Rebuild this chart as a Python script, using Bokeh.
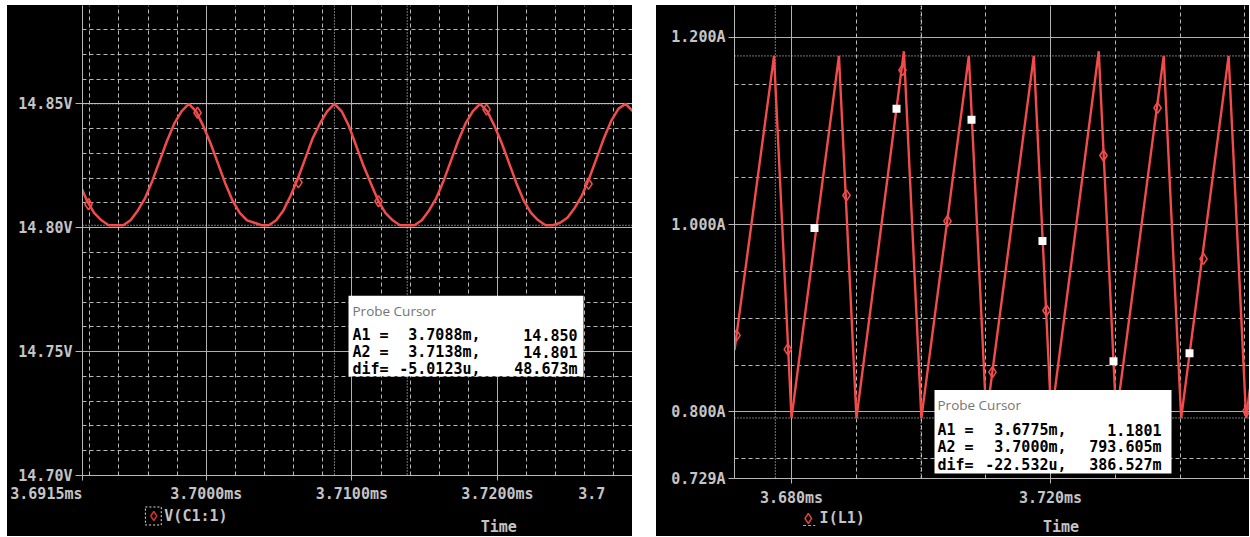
from bokeh.plotting import figure
from bokeh.models import FixedTicker, Span, BoxAnnotation, Label, Range1d, Spacer
from bokeh.layouts import row, column
from bokeh.core.properties import value
from bokeh.embed import file_html
from bokeh.resources import INLINE

# ---------------- LEFT PANEL DATA : V(C1:1) ----------------
v_time_ms = [3.6913, 3.6918, 3.6923, 3.6928, 3.6933, 3.6938, 3.6943, 3.6948, 3.6953, 3.6958,
             3.6963, 3.6968, 3.6973, 3.6978, 3.6983, 3.6988, 3.6993, 3.6998, 3.7003, 3.7008,
             3.7013, 3.7018, 3.7023, 3.7028, 3.7033, 3.7038, 3.7043, 3.7048, 3.7053, 3.7058,
             3.7063, 3.7068, 3.7073, 3.7078, 3.7083, 3.7088, 3.7093, 3.7098, 3.7103, 3.7108,
             3.7113, 3.7118, 3.7123, 3.7128, 3.7133, 3.7138, 3.7143, 3.7148, 3.7153, 3.7158,
             3.7163, 3.7168, 3.7173, 3.7178, 3.7183, 3.7188, 3.7193, 3.7198, 3.7203, 3.7208,
             3.7213, 3.7218, 3.7223, 3.7228, 3.7233, 3.7238, 3.7243, 3.7248, 3.7253, 3.7258,
             3.7263, 3.7268, 3.7273, 3.7278, 3.7283, 3.7288, 3.7293, 3.7298]
v_volts = [14.818, 14.811, 14.806, 14.803, 14.801, 14.801, 14.801, 14.803, 14.807, 14.812,
           14.819, 14.827, 14.835, 14.842, 14.847, 14.850, 14.847, 14.841, 14.834, 14.826,
           14.818, 14.811, 14.806, 14.803, 14.802, 14.801, 14.801, 14.803, 14.807, 14.813,
           14.820, 14.828, 14.836, 14.842, 14.847, 14.850, 14.847, 14.841, 14.833, 14.825,
           14.818, 14.811, 14.806, 14.803, 14.801, 14.801, 14.801, 14.803, 14.807, 14.812,
           14.819, 14.827, 14.835, 14.842, 14.847, 14.850, 14.847, 14.841, 14.834, 14.826,
           14.818, 14.811, 14.806, 14.803, 14.801, 14.801, 14.802, 14.804, 14.808, 14.813,
           14.820, 14.828, 14.836, 14.843, 14.848, 14.850, 14.847, 14.841]
v_marker_time = [3.69191, 3.69940, 3.70633, 3.71183, 3.71925, 3.72625]
v_marker_volts = [14.8095, 14.8464, 14.8183, 14.8107, 14.8477, 14.8177]

v_ticks = [14.70, 14.75, 14.80, 14.85]
v_tick_labels = ["14.70V", "14.75V", "14.80V", "14.85V"]
v_minor_ticks = [14.71, 14.72, 14.73, 14.74, 14.76, 14.77, 14.78, 14.79,
                 14.81, 14.82, 14.83, 14.84, 14.86, 14.87, 14.88]
v_time_ticks = [3.7000, 3.7100, 3.7200]
v_time_labels = ["3.7000ms", "3.7100ms", "3.7200ms"]
v_time_first_label = "3.6915ms"      # at the left end of the axis
v_time_last_label = "3.7"            # cut at the right end of the axis
v_time_minor = [3.692, 3.694, 3.696, 3.698, 3.702, 3.704, 3.706, 3.708,
                3.712, 3.714, 3.716, 3.718, 3.722, 3.724, 3.726, 3.728]
v_cursor_time = [3.7088, 3.7138]
v_cursor_volts = [14.850, 14.801]
v_probe_rows = [("A1 =", "3.7088m,", "14.850"),
                ("A2 =", "3.7138m,", "14.801"),
                ("dif=", "-5.0123u,", "48.673m")]
v_legend = "V(C1:1)"

# ---------------- RIGHT PANEL DATA : I(L1) ----------------
i_time_ms = [3.67120, 3.67730, 3.68000, 3.68733, 3.69003, 3.69736, 3.70006, 3.70739, 3.71009,
             3.71742, 3.72012, 3.72745, 3.73015, 3.73748, 3.74018, 3.74751, 3.75021, 3.75080]
i_amps = [0.8660, 1.1801, 0.7936, 1.1801, 0.7936, 1.1851, 0.7936, 1.1801, 0.7936,
          1.1801, 0.7936, 1.1851, 0.7936, 1.1801, 0.7936, 1.1801, 0.7936, 0.8245]
i_diamond_time = [3.67151, 3.67943, 3.68849, 3.69714, 3.70409, 3.71104, 3.71938, 3.72818,
                  3.73653, 3.74363, 3.75027]
i_diamond_amps = [0.8818, 0.8669, 1.0313, 1.1650, 1.0037, 0.8425, 0.9083, 1.0738,
                  1.1247, 0.9634, 0.8011]
i_square_time = [3.68355, 3.69622, 3.70780, 3.71876, 3.72973, 3.74147]
i_square_amps = [0.9963, 1.1236, 1.1120, 0.9825, 0.8542, 0.8627]

i_ticks = [0.729, 0.800, 1.000, 1.200]
i_tick_labels = ["0.729A", "0.800A", "1.000A", "1.200A"]
i_minor_ticks = [0.75, 0.85, 0.90, 0.95, 1.05, 1.10, 1.15]
i_time_ticks = [3.680, 3.720]
i_time_labels = ["3.680ms", "3.720ms"]
i_time_minor = [3.690, 3.700, 3.710, 3.730, 3.740, 3.750]
i_cursor_time = [3.6775, 3.7000]
i_cursor_amps = [1.1801, 0.793605]
i_probe_rows = [("A1 =", "3.6775m,", "1.1801"),
                ("A2 =", "3.7000m,", "793.605m"),
                ("dif=", "-22.532u,", "386.527m")]
i_legend = "I(L1)"
x_title = "Time"

# ---------------- styling ----------------
MONO = "DejaVu Sans Mono"
RED = "#f24b4b"
LABEL = "#c4c4c4"
AXIS = "#b8b8b8"
MAJOR = "#b0b0b0"
MINOR = "#b8b8b8"
CURSOR = "#e8e8e8"
NBSP = "\u00a0"


# page-pixel -> data helpers (layout only)
def lpx(x):
    return 3.6915 + (x - 82) / 14561.0


def lpy(y):
    return 14.70 + (478 - y) / 2493.3


def rpx(x):
    return 3.680 + (x - 791) / 6475.0


def rpy(y):
    return 0.729 + (481 - y) / 942.68


def make_fig(xr, yr, width, height, mbl, mbb):
    p = figure(width=width, height=height, x_range=xr, y_range=yr,
               output_backend="svg", toolbar_location=None, tools="",
               min_border_left=mbl, min_border_right=0, min_border_top=0,
               min_border_bottom=mbb, background_fill_color="black",
               border_fill_color="black", outline_line_color=None)
    for ax in (p.xaxis[0], p.yaxis[0]):
        ax.axis_line_color = AXIS
        ax.major_tick_line_color = AXIS
        ax.minor_tick_line_color = None
        ax.major_tick_in = 0
        ax.major_label_text_font = MONO
        ax.major_label_text_font_style = "bold"
        ax.major_label_text_font_size = "15px"
        ax.major_label_text_color = LABEL
    for g in (p.xgrid[0], p.ygrid[0]):
        g.grid_line_color = MAJOR
        g.grid_line_width = 1
        g.minor_grid_line_color = MINOR
        g.minor_grid_line_dash = "4 3"
        g.minor_grid_line_width = 1
    return p


def strip(x0, x1, y0, y1):
    s = figure(width=x1 - x0, height=y1 - y0, x_range=Range1d(x0, x1), y_range=Range1d(y1, y0),
               output_backend="svg", toolbar_location=None, tools="",
               x_axis_location=None, y_axis_location=None, min_border=0,
               background_fill_color="black", border_fill_color="black",
               outline_line_color=None)
    s.grid.visible = False
    return s


def stext(s, x, y, text, align="left", color=LABEL, size="15px"):
    s.text(x=[x], y=[y], text=[text], text_font=value(MONO), text_font_style="bold",
           text_font_size=size, text_color=color, text_align=align, text_baseline="middle")


def lab(p, x, y, text, size="15px", color=LABEL, font=MONO, style="bold",
        align="left", baseline="middle"):
    p.add_layout(Label(x=x, y=y, text=text, text_font=font, text_font_size=size,
                       text_font_style=style, text_color=color, text_align=align,
                       text_baseline=baseline))


def cursors(p, xs, ys):
    for x in xs:
        p.add_layout(Span(location=x, dimension="height", line_color=CURSOR,
                          line_dash="1 2", line_width=1, level="underlay"))
    for y in ys:
        p.add_layout(Span(location=y, dimension="width", line_color=CURSOR,
                          line_dash="1 2", line_width=1, level="underlay"))


def probe_box(p, fx, fy, left, right, top, bottom, x_text, col2_right, col3_right,
              title_y, row_ys, rows):
    p.add_layout(BoxAnnotation(left=fx(left), right=fx(right), top=fy(top), bottom=fy(bottom),
                               fill_color="white", fill_alpha=1.0, line_color=None))
    lab(p, fx(x_text), fy(title_y), "Probe Cursor", size="13.5px", color="#747474",
        font="Open Sans", style="normal")
    for (a, b, c), yy in zip(rows, row_ys):
        lab(p, fx(x_text), fy(yy), a, color="black")
        lab(p, fx(col2_right), fy(yy), b, color="black", align="right")
        lab(p, fx(col3_right), fy(yy), c, color="black", align="right")


# ---------------- left figure ----------------
lx0, lx1 = lpx(82), lpx(632)
p1 = make_fig(Range1d(lx0, lx1), Range1d(lpy(478), lpy(5)), 625, 500, 75, 27)
first_tick, last_tick = lx0 + 1e-6, lx1 - 1e-6
p1.xaxis.ticker = FixedTicker(ticks=[first_tick] + v_time_ticks + [last_tick])
overrides = dict(zip(v_time_ticks, v_time_labels))
overrides[first_tick] = v_time_first_label + NBSP * 8
overrides[last_tick] = v_time_last_label + NBSP * 3
p1.xaxis.major_label_overrides = overrides
p1.xgrid.ticker = FixedTicker(ticks=v_time_ticks, minor_ticks=v_time_minor)
p1.xaxis.major_tick_out = 5
p1.xaxis.major_label_standoff = 4
p1.yaxis.ticker = FixedTicker(ticks=v_ticks, minor_ticks=v_minor_ticks)
p1.yaxis.major_label_overrides = dict(zip(v_ticks, v_tick_labels))
p1.yaxis.major_tick_out = 7
p1.yaxis.major_label_standoff = 3
cursors(p1, v_cursor_time, v_cursor_volts)
p1.line(v_time_ms, v_volts, line_color=RED, line_width=2.5)
p1.scatter(v_marker_time, v_marker_volts, marker="diamond", size=11, fill_color=None,
           line_color=RED, line_width=1.6)
probe_box(p1, lpx, lpy, 348, 583, 297, 378, 352, 480, 577, 312, [337, 354, 371], v_probe_rows)

s1 = strip(7, 632, 505, 536)
s1.rect(x=[87.5], y=[515.5], width=[18], height=[18], fill_color=None, line_color="#e0e0e0",
        line_dash="2 2", line_width=1)
s1.scatter(x=[88], y=[515.5], marker="diamond", size=9, fill_color=None,
           line_color="#d03030", line_width=1.5)
stext(s1, 100, 515.5, v_legend)
stext(s1, 480, 526, x_title, align="center")

# ---------------- right figure ----------------
p2 = make_fig(Range1d(rpx(734), rpx(1249)), Range1d(rpy(481), rpy(5)), 593, 504, 78, 28)
p2.xaxis.ticker = FixedTicker(ticks=i_time_ticks, minor_ticks=i_time_minor)
p2.xaxis.major_label_overrides = dict(zip(i_time_ticks, i_time_labels))
p2.xaxis.major_tick_out = 5
p2.xaxis.major_label_standoff = 5
p2.yaxis.ticker = FixedTicker(ticks=i_ticks, minor_ticks=i_minor_ticks)
p2.yaxis.major_label_overrides = dict(zip(i_ticks, i_tick_labels))
p2.yaxis.major_tick_out = 6
p2.yaxis.major_label_standoff = 3
cursors(p2, i_cursor_time, i_cursor_amps)
p2.line(i_time_ms, i_amps, line_color=RED, line_width=2.4)
p2.scatter(i_diamond_time, i_diamond_amps, marker="diamond", size=11, fill_color=None,
           line_color=RED, line_width=1.6)
p2.scatter(i_square_time, i_square_amps, marker="square", size=8, fill_color="white",
           line_color=None)
probe_box(p2, rpx, rpy, 934, 1171, 392, 476, 937, 1066, 1161, 407, [432, 449, 467], i_probe_rows)

s2 = strip(656, 1249, 509, 536)
s2.scatter(x=[741], y=[518], marker="diamond", size=10, fill_color=None,
           line_color="#e04040", line_width=1.5)
s2.line(x=[735, 749], y=[525, 525], line_color="#b0b0b0", line_dash="3 2", line_width=1)
stext(s2, 754, 517, i_legend)
stext(s2, 1032, 526, x_title, align="center")

black = {"background-color": "black"}
layout = column(Spacer(height=5),
                row(Spacer(width=7), column(p1, s1, styles=black), Spacer(width=24),
                    column(p2, s2, styles=black)))
open("out.html", "w").write(file_html(layout, INLINE, title="PSpice probe"))
